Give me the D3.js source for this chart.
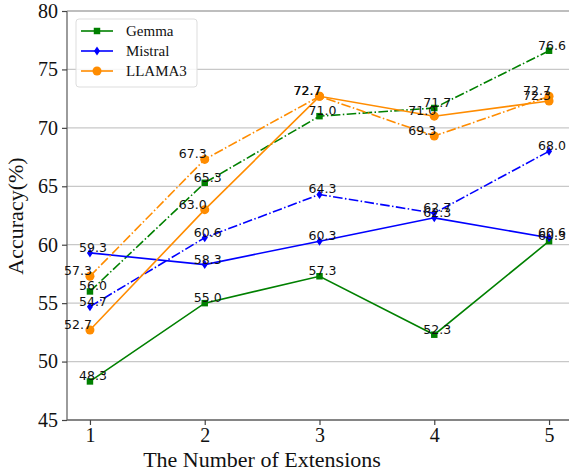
<!DOCTYPE html>
<html>
<head>
<meta charset="utf-8">
<script src="https://cdn.jsdelivr.net/npm/d3@7"></script>
<style>
  body { margin: 0; background: #fff; }
  #caja { width: 569px; height: 473px; }
</style>
</head>
<body>
<div id="caja"></div>
<script>
// datos del grafico
var extensiones = [1, 2, 3, 4, 5];
var yTicks = [45, 50, 55, 60, 65, 70, 75, 80];

var gemma = [48.3, 55.0, 57.3, 52.3, 60.3];
var gemmaExt = [56.0, 65.3, 71.0, 71.7, 76.6];
var mistral = [59.3, 58.3, 60.3, 62.3, 60.6];
var mistralExt = [54.7, 60.6, 64.3, 62.7, 68.0];
var llama = [52.7, 63.0, 72.7, 71.0, 72.3];
var llamaExt = [57.3, 67.3, 72.7, 69.3, 72.7];

var modelos = ["Gemma", "Mistral", "LLAMA3"];
var colores = {"Gemma": "#008000", "Mistral": "#0000ff", "LLAMA3": "#ff8c00"};

var series = [
  {modelo: "Gemma", valores: gemma, dash: false},
  {modelo: "Gemma", valores: gemmaExt, dash: true},
  {modelo: "Mistral", valores: mistral, dash: false},
  {modelo: "Mistral", valores: mistralExt, dash: true},
  {modelo: "LLAMA3", valores: llama, dash: false},
  {modelo: "LLAMA3", valores: llamaExt, dash: true}
];

var w = 569, h = 473;
var m = {left: 67, right: 0, top: 11, bottom: 53};

var svg = d3.select('#caja').append('svg')
  .attr('width', w).attr('height', h);

var x = d3.scaleLinear().domain([0.8, 5.2]).range([m.left, m.left + 505]);
var y = d3.scaleLinear().domain([45, 80]).range([h - m.bottom, m.top]);

// rejilla horizontal
svg.append("g").selectAll("line").data(yTicks).enter().append("line")
  .attr("x1", m.left).attr("x2", w)
  .attr("y1", function(d) { return y(d); })
  .attr("y2", function(d) { return y(d); })
  .attr("stroke", "#c8c8c8").attr("stroke-width", 1.2);

// ejes
var ejeY = svg.append("g").attr("transform", "translate(" + m.left + ",0)")
  .call(d3.axisLeft(y).tickValues(yTicks).tickFormat(d3.format("d")).tickSize(5).tickPadding(4));
var ejeX = svg.append("g").attr("transform", "translate(0," + (h - m.bottom) + ")")
  .call(d3.axisBottom(x).tickValues(extensiones).tickFormat(d3.format("d")).tickSize(5).tickPadding(3));

[ejeY, ejeX].forEach(function(g) {
  g.select(".domain").attr("stroke", "#666").attr("stroke-width", 1.3);
  g.selectAll(".tick line").attr("stroke", "#444").attr("stroke-width", 1.2);
  g.selectAll("text").attr("font-family", "'Liberation Serif', 'Times New Roman', serif")
    .attr("font-size", "20px").attr("fill", "#111");
});
ejeY.select(".domain").attr("d", "M0," + y(45) + "V" + y(80));
ejeX.select(".domain").attr("d", "M" + m.left + ",0H" + w);

// borde superior
svg.append("line").attr("x1", m.left).attr("x2", w).attr("y1", y(80)).attr("y2", y(80))
  .attr("stroke", "#999").attr("stroke-width", 1.2);

// titulos
svg.append("text").text("The Number of Extensions")
  .attr("x", 262).attr("y", 467).attr("text-anchor", "middle")
  .attr("font-family", "'Liberation Serif', 'Times New Roman', serif")
  .attr("font-size", "22px").attr("fill", "#111");
svg.append("text").text("Accuracy(%)")
  .attr("transform", "translate(23," + 216 + ") rotate(-90)")
  .attr("text-anchor", "middle")
  .attr("font-family", "'Liberation Serif', 'Times New Roman', serif")
  .attr("font-size", "22px").attr("fill", "#111");

var linea = d3.line()
  .x(function(d, i) { return x(extensiones[i]); })
  .y(function(d) { return y(d); });

function simbolo(modelo) {
  if (modelo === "Gemma") return d3.symbol().type(d3.symbolSquare).size(42)();
  if (modelo === "LLAMA3") return d3.symbol().type(d3.symbolCircle).size(64)();
  return "M0,-4.5L3,0L0,4.5L-3,0Z";
}

// lineas y marcadores
series.forEach(function(s) {
  svg.append("path").datum(s.valores)
    .attr("d", linea)
    .attr("fill", "none")
    .attr("stroke", colores[s.modelo])
    .attr("stroke-width", 1.6)
    .attr("stroke-dasharray", s.dash ? "9.6,2.4,1.5,2.4" : null);

  svg.append("g").selectAll("path").data(s.valores).enter().append("path")
    .attr("d", simbolo(s.modelo))
    .attr("transform", function(d, i) {
      return "translate(" + x(extensiones[i]) + "," + y(d) + ")";
    })
    .attr("fill", colores[s.modelo]);
});

// textos de valor
series.forEach(function(s) {
  var dx = s.modelo === "LLAMA3" ? -12 : 3;
  svg.append("g").selectAll("text").data(s.valores).enter().append("text")
    .text(function(d) { return d.toFixed(1); })
    .attr("x", function(d, i) { return x(extensiones[i]) + dx; })
    .attr("y", function(d) { return y(d) - 1; })
    .attr("text-anchor", "middle")
    .attr("font-family", "'DejaVu Sans', sans-serif")
    .attr("font-size", "12.5px")
    .attr("fill", "#111");
});

// leyenda
var ley = svg.append("g");
ley.append("rect").attr("x", 76).attr("y", 19).attr("width", 121).attr("height", 68)
  .attr("rx", 3).attr("fill", "#fff").attr("fill-opacity", 0.85)
  .attr("stroke", "#ddd").attr("stroke-width", 1);
modelos.forEach(function(mo, i) {
  var yy = 31 + i * 20;
  ley.append("line").attr("x1", 81).attr("x2", 113).attr("y1", yy).attr("y2", yy)
    .attr("stroke", colores[mo]).attr("stroke-width", 1.6);
  ley.append("path").attr("d", simbolo(mo))
    .attr("transform", "translate(97," + yy + ")").attr("fill", colores[mo]);
  ley.append("text").text(mo).attr("x", 126).attr("y", yy + 5)
    .attr("font-family", "'Liberation Serif', 'Times New Roman', serif")
    .attr("font-size", "15px").attr("fill", "#111");
});
</script>
</body>
</html>
